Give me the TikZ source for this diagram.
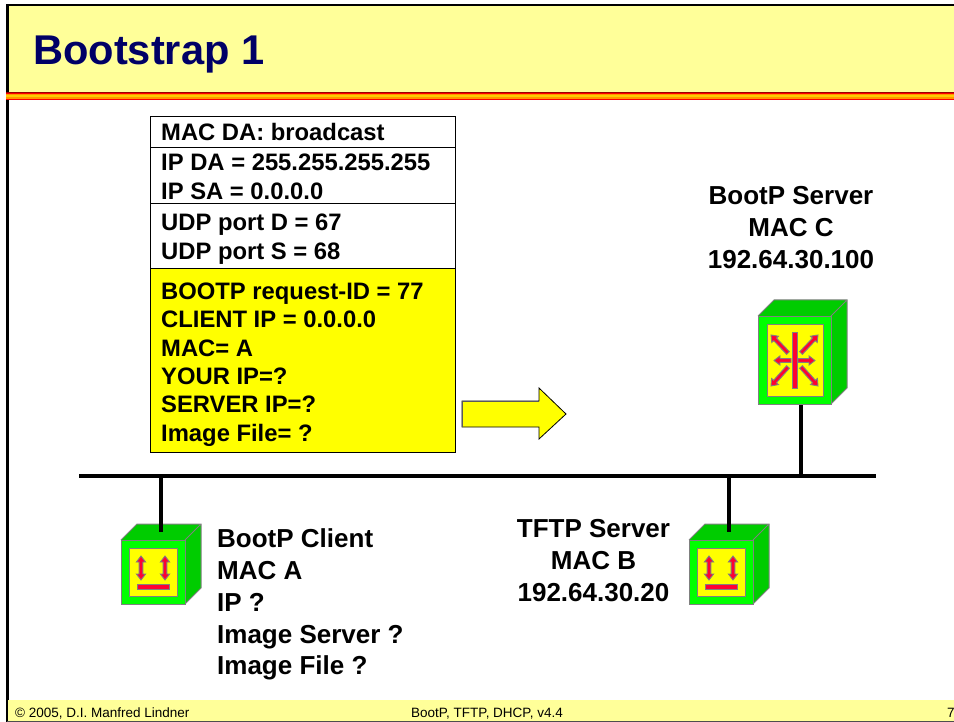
\documentclass[tikz,border=0pt]{standalone}
\usepackage{fontspec}
\setmainfont{Liberation Sans}
\usetikzlibrary{calc}
\definecolor{paleyel}{HTML}{FFFF99}
\definecolor{pureyel}{HTML}{FFFF00}
\definecolor{titleblue}{HTML}{000066}
\definecolor{devlight}{HTML}{00FF00}
\definecolor{devdark}{HTML}{00CC00}
\definecolor{devred}{HTML}{FF0033}
\definecolor{devgray}{HTML}{808080}
\definecolor{stripedark}{HTML}{990000}
\definecolor{stripered}{HTML}{FF0000}
\definecolor{stripeorange}{HTML}{FF9900}
\definecolor{stripeyel}{HTML}{FFCC00}
\tikzset{
  lbl/.style={font=\fontsize{23.8}{29}\selectfont\bfseries, inner sep=0pt, anchor=base west},
  biglbl/.style={font=\fontsize{26}{32}\selectfont\bfseries, inner sep=0pt, anchor=base west},
  cbiglbl/.style={font=\fontsize{26}{32}\selectfont\bfseries, inner sep=0pt, anchor=base},
  foot/.style={font=\fontsize{13.5}{16}\selectfont, inner sep=0pt, anchor=base west},
  net/.style={line width=4pt, black},
  devface/.style={draw=devgray, line width=1pt},
  fatar/.style={fill=devred, draw=devgray, line width=0.9pt, line join=miter},
  boxline/.style={draw=black, line width=1pt},
}
\newcommand{\fatsingle}[2]{%
  \coordinate (nk) at ($(#2)!6pt!(#1)$);
  \draw[fatar] ($(#1)!1.9pt!90:(nk)$) -- ($(nk)!1.9pt!-90:(#1)$) -- ($(nk)!4.6pt!-90:(#1)$) -- (#2)
     -- ($(nk)!4.6pt!90:(#1)$) -- ($(nk)!1.9pt!90:(#1)$) -- ($(#1)!1.9pt!-90:(nk)$) -- cycle;}
\newcommand{\fatdouble}[2]{%
  \coordinate (nka) at ($(#2)!6pt!(#1)$);
  \coordinate (nkb) at ($(#1)!6pt!(#2)$);
  \draw[fatar] (#1) -- ($(nkb)!4.6pt!-90:(#2)$) -- ($(nkb)!1.9pt!-90:(#2)$) -- ($(nka)!1.9pt!90:(#1)$)
     -- ($(nka)!4.6pt!90:(#1)$) -- (#2) -- ($(nka)!4.6pt!-90:(#1)$) -- ($(nka)!1.9pt!-90:(#1)$)
     -- ($(nkb)!1.9pt!90:(#2)$) -- ($(nkb)!4.6pt!90:(#2)$) -- cycle;}
\newcommand{\smalldev}[3]{%
  \begin{scope}[shift={(#1,#2)}]
    \fill[devdark] (0,0) -- (16,-16) -- (80,-16) -- (80,48) -- (64,64) -- (64,0) -- cycle;
    \draw[devface] (0,0) -- (16,-16) -- (80,-16) -- (80,48) -- (64,64) (64,0) -- (80,-16);
    \node[devface, fill=devlight, minimum width=64pt, minimum height=64pt, inner sep=0pt, anchor=north west] (#3) at (0,0) {};
    \node[devface, fill=pureyel, minimum width=48pt, minimum height=48pt, inner sep=0pt, anchor=north west] (#3in) at (8,8) {};
    \coordinate (#3a) at (20,16); \coordinate (#3b) at (20,40);
    \coordinate (#3c) at (44,16); \coordinate (#3d) at (44,40);
    \fatdouble{#3a}{#3b}
    \fatdouble{#3c}{#3d}
    \node[fatar, minimum width=32pt, minimum height=4.5pt, inner sep=0pt, anchor=north west] (#3bar) at (15.5,44) {};
  \end{scope}}
\begin{document}
\begin{tikzpicture}[x=1pt,y=-1pt]
\useasboundingbox (0,0) rectangle (954,722);
\fill[white] (0,0) rectangle (954,722);
% slide frame
\fill[paleyel] (8,6) rectangle (954,92);
\fill[black] (6,4) rectangle (954,6.5);
\fill[black] (6,4) rectangle (8.5,700);
\fill[black] (6,700) rectangle (7.5,722);
% title stripe
\fill[stripedark] (6,92) rectangle (954,100.5);
\fill[stripered] (6,92.6) rectangle (954,99.6);
\fill[stripeorange] (6,93.6) rectangle (954,98.6);
\fill[stripeyel] (6,94.6) rectangle (954,97.4);
% footer
\fill[paleyel] (8,700) rectangle (954,721);
\draw[devgray!60!black, line width=1pt] (7,721.5) -- (954,721.5);
\node[font=\fontsize{41.6}{48}\selectfont\bfseries, text=titleblue, inner sep=0pt, anchor=base west] (title) at (33,65) {Bootstrap 1};
\node[foot] (footl) at (15,717) {© 2005, D.I. Manfred Lindner};
\node[foot] (footc) at (411,717) {BootP, TFTP, DHCP, v4.4};
\node[foot] (footr) at (947,717) {7};
% header box
\node[boxline, fill=white, minimum width=305pt, minimum height=152pt, inner sep=0pt, anchor=north west] (hdr) at (150,116) {};
\node[boxline, fill=pureyel, minimum width=305pt, minimum height=184pt, inner sep=0pt, anchor=north west] (payload) at (150,268) {};
\coordinate (d1) at (150,148); \coordinate (d1e) at (455,148);
\coordinate (d2) at (150,204); \coordinate (d2e) at (455,204);
\draw[boxline] (d1) -- (d1e);
\draw[boxline] (d2) -- (d2e);
\node[lbl] (t1) at (161,141) {MAC DA: broadcast};
\node[lbl] (t2) at (161,171) {IP DA = 255.255.255.255};
\node[lbl] (t3) at (161,200) {IP SA = 0.0.0.0};
\node[lbl] (t4) at (161,231) {UDP port D = 67};
\node[lbl] (t5) at (161,260) {UDP port S = 68};
\node[lbl] (t6) at (161,299.5) {BOOTP request-ID = 77};
\node[lbl] (t7) at (161,328) {CLIENT IP = 0.0.0.0};
\node[lbl] (t8) at (161,356.5) {MAC= A};
\node[lbl] (t9) at (161,384.5) {YOUR IP=?};
\node[lbl] (t10) at (161,412.5) {SERVER IP=?};
\node[lbl] (t11) at (161,441) {Image File= ?};
% big arrow
\draw[fill=pureyel, draw=black, line width=0.8pt, line join=miter] (462,401) -- (539,401) -- (539,388) -- (566,414) -- (539,439) -- (539,427) -- (462,427) -- cycle;
\draw[devgray!70!black, line width=1pt] (462,427) -- (462,401) -- (539,401);
% server device
\fill[devdark] (758,316) -- (774,300) -- (847,300) -- (847,388) -- (831,404) -- (831,316) -- cycle;
\draw[devface] (758,316) -- (774,300) -- (847,300) -- (847,388) -- (831,404) (831,316) -- (847,300);
\node[devface, fill=devlight, minimum width=73pt, minimum height=88pt, inner sep=0pt, anchor=north west] (server) at (758,316) {};
\node[devface, fill=pureyel, minimum width=56pt, minimum height=72pt, inner sep=0pt, anchor=north west] (serverin) at (767,324) {};
\node[fatar, minimum width=5pt, minimum height=56pt, inner sep=0pt] (srvbar) at (794.5,360.5) {};
\coordinate (sw1) at (791,360.5); \coordinate (sw2) at (774,360.5);
\coordinate (se1) at (798,360.5); \coordinate (se2) at (815,360.5);
\coordinate (nw1) at (788,353); \coordinate (nw2) at (771,335);
\coordinate (ne1) at (801,353); \coordinate (ne2) at (818,335);
\coordinate (dw1) at (788,367); \coordinate (dw2) at (771,386);
\coordinate (de1) at (801,367); \coordinate (de2) at (818,386);
\fatsingle{sw1}{sw2}
\fatsingle{se1}{se2}
\fatsingle{nw1}{nw2}
\fatsingle{ne1}{ne2}
\fatsingle{dw1}{dw2}
\fatsingle{de1}{de2}
% small devices
\smalldev{121}{540}{client}
\smalldev{689}{540}{tftp}
% network
\coordinate (busl) at (79,476); \coordinate (busr) at (876,476);
\coordinate (cb) at (161,476); \coordinate (ct) at (161,532);
\coordinate (tb) at (729,476); \coordinate (tt) at (729,532);
\coordinate (sb) at (801,476);
\draw[net] (busl) -- (busr);
\draw[net] (cb) -- (ct);
\draw[net] (tb) -- (tt);
\draw[net] (sb) -- (server.south -| sb);
% labels
\node[cbiglbl] (s1) at (791,205) {BootP Server};
\node[cbiglbl] (s2) at (791,237) {MAC C};
\node[cbiglbl] (s3) at (791,269) {192.64.30.100};
\node[biglbl] (c1) at (217,547) {BootP Client};
\node[biglbl] (c2) at (217,579) {MAC A};
\node[biglbl] (c3) at (217,611) {IP ?};
\node[biglbl] (c4) at (217,643) {Image Server ?};
\node[biglbl] (c5) at (217,674.5) {Image File ?};
\node[cbiglbl] (f1) at (593.5,537) {TFTP Server};
\node[cbiglbl] (f2) at (593.5,569) {MAC B};
\node[cbiglbl] (f3) at (593.5,601) {192.64.30.20};
\end{tikzpicture}
\end{document}
